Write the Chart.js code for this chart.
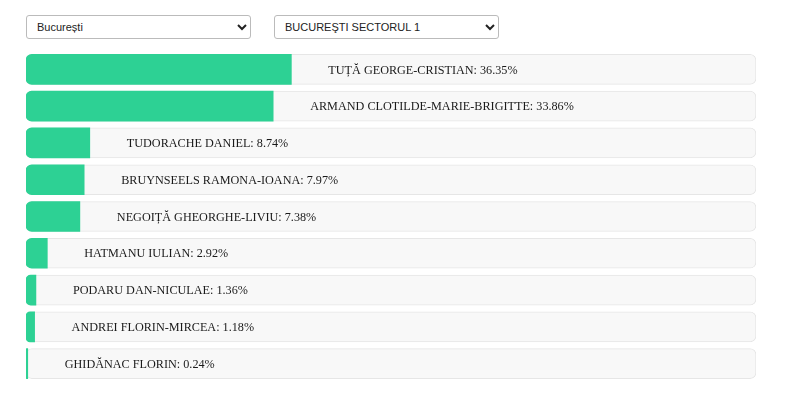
<!DOCTYPE html>
<html>
<head>
<meta charset="utf-8">
<script src="https://cdn.jsdelivr.net/npm/chart.js@4"></script>
<style>
  body { margin: 0; background: #fff; }
  select {
    position: absolute; top: 15px; height: 24px;
    font: 11px "Liberation Sans", Arial, sans-serif; color: #222;
    background: #fff; border: 1px solid #bbb; border-radius: 3px; padding: 0 6px;
  }
  #judet { left: 26px; width: 225px; }
  #sector { left: 274px; width: 225px; }
  #wrap { position: absolute; left: 26px; top: 51px; width: 730px; height: 331px; }
</style>
</head>
<body>
<select id="judet"><option>București</option></select>
<select id="sector"><option>BUCUREŞTI SECTORUL 1</option></select>
<div id="wrap"><canvas id="myChart"></canvas></div>
<script>
'use strict'
let candidates = ['TUȚĂ GEORGE-CRISTIAN', 'ARMAND CLOTILDE-MARIE-BRIGITTE', 'TUDORACHE DANIEL',
    'BRUYNSEELS RAMONA-IOANA', 'NEGOIȚĂ GHEORGHE-LIVIU', 'HATMANU IULIAN',
    'PODARU DAN-NICULAE', 'ANDREI FLORIN-MIRCEA', 'GHIDĂNAC FLORIN'];
let percents = [36.35, 33.86, 8.74, 7.97, 7.38, 2.92, 1.36, 1.18, 0.24];
let full = candidates.map(() => 100);

// text after the end of the green bar
let labelPlugin = {
    id: 'labelPlugin',
    afterDatasetsDraw(chart) {
        let ctx = chart.ctx;
        let meta = chart.getDatasetMeta(1);
        ctx.save();
        ctx.font = '12.2px "Liberation Serif", "Times New Roman", serif';
        ctx.fillStyle = '#1a1a1a';
        ctx.textBaseline = 'middle';
        ctx.textAlign = 'left';
        meta.data.forEach((bar, i) => {
            ctx.fillText(`${candidates[i]}: ${percents[i].toFixed(2)}%`, bar.x + 37, bar.y + 1);
        });
        ctx.restore();
    }
};

let ctx = document.getElementById('myChart').getContext('2d');
let myChart = new Chart(ctx, {
    type: 'bar',
    data: {
        labels: candidates,
        datasets: [{
            data: full,
            backgroundColor: '#f8f8f8',
            borderColor: '#e6e6e6',
            borderWidth: 1,
            borderRadius: 6,
            borderSkipped: false,
            barThickness: 30,
            grouped: false,
            order: 2
        }, {
            data: percents,
            backgroundColor: '#2dd194',
            borderWidth: 0,
            borderRadius: { topLeft: 6, bottomLeft: 6, topRight: 0, bottomRight: 0 },
            borderSkipped: false,
            barThickness: 30,
            grouped: false,
            order: 1
        }]
    },
    options: {
        indexAxis: 'y',
        responsive: true,
        maintainAspectRatio: false,
        animation: false,
        layout: { padding: 0 },
        plugins: { legend: { display: false }, tooltip: { enabled: false } },
        scales: {
            x: { display: false, min: 0, max: 100 },
            y: { display: false }
        }
    },
    plugins: [labelPlugin]
});
</script>
</body>
</html>
